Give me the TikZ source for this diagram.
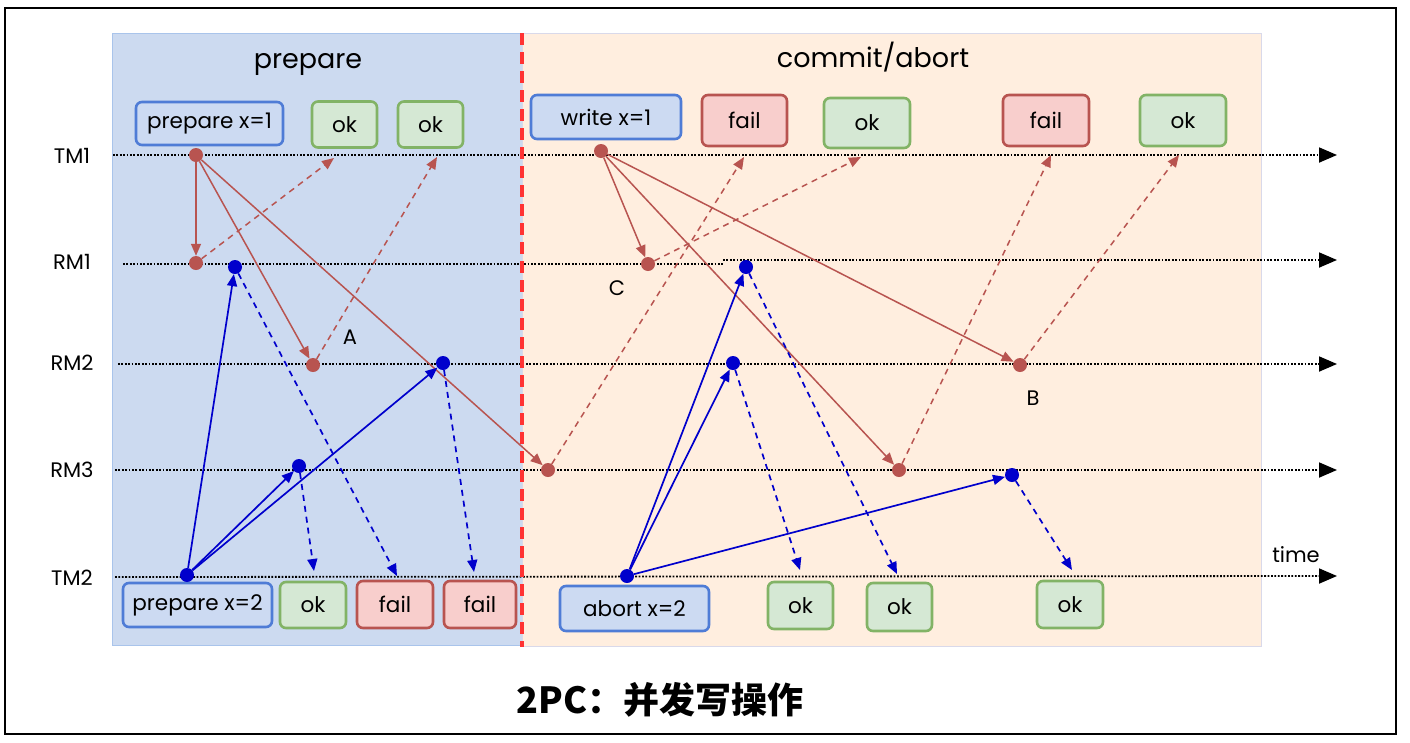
\documentclass[tikz,border=0pt]{standalone}
\usepackage{fontspec}
\setmainfont{Poppins}
\newfontfamily\cjk{Noto Sans CJK SC}
\usetikzlibrary{arrows.meta}
\definecolor{rm}{HTML}{B85450}
\definecolor{bl}{HTML}{0000CC}
\definecolor{regblue}{HTML}{CCDAF0}
\definecolor{regblueln}{HTML}{A9C4EB}
\definecolor{regor}{HTML}{FFEEDF}
\definecolor{regorln}{HTML}{D9D9EA}
\definecolor{bboxln}{HTML}{4F7CD6}
\definecolor{bboxfill}{HTML}{CCDAF2}
\definecolor{gboxln}{HTML}{82B366}
\definecolor{gboxfill}{HTML}{D5E8D4}
\definecolor{rboxfill}{HTML}{F8CECC}
\definecolor{redline}{HTML}{FF3333}
\tikzset{
  lbl/.style={font=\fontsize{21}{24}\selectfont},
  ttl/.style={font=\fontsize{27}{30}\selectfont, anchor=base},
  boxbase/.style={rounded corners=6pt, line width=2.6pt, inner sep=0pt, font=\fontsize{21.5}{24}\selectfont},
  bbox/.style={boxbase, draw=bboxln, fill=bboxfill},
  gbox/.style={boxbase, draw=gboxln, fill=gboxfill},
  rbox/.style={boxbase, draw=rm, fill=rboxfill},
  rdot/.style={circle, fill=rm, inner sep=0pt, minimum size=14pt},
  bdot/.style={circle, fill=bl, inner sep=0pt, minimum size=14pt},
  rarr/.style={draw=rm, line width=1.5pt, -{Triangle[length=12pt,width=10pt]}},
  rdash/.style={rarr, dash pattern=on 6pt off 5pt},
  barr/.style={draw=bl, line width=1.7pt, -{Triangle[length=12pt,width=10pt]}},
  bdash/.style={barr, dash pattern=on 6pt off 5pt},
  tline/.style={draw=black, line width=1.8pt, dash pattern=on 1.8pt off 1.6pt, -{Triangle[length=18pt,width=15pt]}},
  tseg/.style={draw=black, line width=1.8pt, dash pattern=on 1.8pt off 1.6pt},
}
\begin{document}
\begin{tikzpicture}[x=1pt,y=-1pt]
\useasboundingbox (0,0) rectangle (1410,742);
\fill[white] (0,0) rectangle (1410,742);
% regions
\draw[draw=regblueln, fill=regblue, line width=1pt] (112,33) rectangle (522,645);
\draw[draw=regorln, fill=regor, line width=1pt] (522,33) rectangle (1261,646);
% outer frame
\draw[line width=2.5pt] (5,8) rectangle (1396,734);
% titles
\node[ttl] (tprep) at (308,68) {prepare};
\node[ttl] (tcomm) at (873,67) {commit/abort};
% row labels
\node[lbl] (lTM1) at (72,156) {TM1};
\node[lbl] (lRM1) at (72,262) {RM1};
\node[lbl] (lRM2) at (72,363) {RM2};
\node[lbl] (lRM3) at (72,470) {RM3};
\node[lbl] (lTM2) at (72,578) {TM2};
% timelines
\coordinate (s1) at (113,155); \coordinate (e1) at (1337,155);
\coordinate (s2) at (123,264); \coordinate (m2) at (723,264);
\coordinate (m2b) at (723,260); \coordinate (e2) at (1337,260);
\coordinate (s3) at (118,364); \coordinate (e3) at (1337,364);
\coordinate (s4) at (115,470); \coordinate (e4) at (1337,470);
\coordinate (s5) at (115,577); \coordinate (e5) at (1337,576);
\draw[tline] (s1) -- (e1);
\draw[tseg] (s2) -- (m2);
\draw[tline] (m2b) -- (e2);
\draw[tline] (s3) -- (e3);
\draw[tline] (s4) -- (e4);
\draw[tline] (s5) -- (e5);
% red dashed separator
\coordinate (sepT) at (522,33); \coordinate (sepB) at (522,647);
\draw[draw=redline, line width=3.5pt, dash pattern=on 12pt off 7pt] (sepT) -- (sepB);
% boxes
\node[bbox, minimum width=147pt, minimum height=43pt] (bp1) at (209.5,123.5) {prepare x=1};
\node[gbox, minimum width=65pt, minimum height=46pt] (ok1) at (344.5,124.5) {ok};
\node[gbox, minimum width=65pt, minimum height=46pt] (ok2) at (430.5,124.5) {ok};
\node[bbox, minimum width=149pt, minimum height=44pt] (bp2) at (197.5,605) {prepare x=2};
\node[gbox, minimum width=66pt, minimum height=46pt] (ok3) at (313,605) {ok};
\node[rbox, minimum width=76pt, minimum height=47pt] (f1) at (395,604.5) {fail};
\node[rbox, minimum width=72pt, minimum height=47pt] (f2) at (480,604.5) {fail};
\node[bbox, minimum width=150pt, minimum height=44pt] (bw1) at (606,117) {write x=1};
\node[rbox, minimum width=85pt, minimum height=51pt] (f3) at (744.5,120.5) {fail};
\node[gbox, minimum width=86pt, minimum height=50pt] (ok4) at (867,123) {ok};
\node[rbox, minimum width=86pt, minimum height=51pt] (f4) at (1046,120.5) {fail};
\node[gbox, minimum width=86pt, minimum height=51pt] (ok5) at (1183,120.5) {ok};
\node[bbox, minimum width=149pt, minimum height=45pt] (ba2) at (634.5,608.5) {abort x=2};
\node[gbox, minimum width=65pt, minimum height=47pt] (ok6) at (800.5,605.5) {ok};
\node[gbox, minimum width=65pt, minimum height=48pt] (ok7) at (899.5,607) {ok};
\node[gbox, minimum width=66pt, minimum height=47pt] (ok8) at (1070,604.5) {ok};
% letters
\node[lbl] (lA) at (350,337) {A};
\node[lbl] (lC) at (617,288) {C};
\node[lbl] (lB) at (1033,398) {B};
\node[lbl] (ltime) at (1296,555) {time};
% dots
\node[rdot] (TM1a) at (196,155) {};
\node[rdot] (RM1a) at (196,263) {};
\node[rdot] (RM2a) at (313,365) {};
\node[rdot] (RM3a) at (548,470) {};
\node[rdot] (TM1b) at (601,151) {};
\node[rdot] (RM1b) at (648,264) {};
\node[rdot] (RM3b) at (899,470) {};
\node[rdot] (RM2b) at (1020,365) {};
\node[bdot] (RM1c) at (235,267) {};
\node[bdot] (RM2c) at (443,363) {};
\node[bdot] (RM3c) at (299,466) {};
\node[bdot] (TM2a) at (187,575) {};
\node[bdot] (RM1d) at (746,267) {};
\node[bdot] (RM2d) at (733,363) {};
\node[bdot] (RM3d) at (1012,475) {};
\node[bdot] (TM2b) at (627,576) {};
% free ends
\coordinate (tOk1) at (334,158);
\coordinate (tOk2) at (437,157);
\coordinate (tF3) at (744,157);
\coordinate (tOk4) at (861,157);
\coordinate (tF4) at (1051,155);
\coordinate (tOk5) at (1179,155);
\coordinate (tF1) at (397,576);
\coordinate (tOk3) at (314,571);
\coordinate (tF2) at (474,572);
\coordinate (tOk6) at (800,570);
\coordinate (tOk7) at (897,574);
\coordinate (tOk8) at (1072,570);
% red arrows, prepare
\draw[rarr] (TM1a) -- (RM1a);
\draw[rarr] (TM1a) -- (RM2a);
\draw[rarr] (TM1a) -- (RM3a);
\draw[rdash] (RM1a) -- (tOk1);
\draw[rdash] (RM2a) -- (tOk2);
% red arrows, commit
\draw[rarr] (TM1b) -- (RM1b);
\draw[rarr] (TM1b) -- (RM3b);
\draw[rarr] (TM1b) -- (RM2b);
\draw[rdash] (RM3a) -- (tF3);
\draw[rdash] (RM1b) -- (tOk4);
\draw[rdash] (RM3b) -- (tF4);
\draw[rdash] (RM2b) -- (tOk5);
% blue arrows, prepare
\draw[barr] (TM2a) -- (RM1c);
\draw[barr] (TM2a) -- (RM3c);
\draw[barr] (TM2a) -- (RM2c);
\draw[bdash] (RM1c) -- (tF1);
\draw[bdash] (RM3c) -- (tOk3);
\draw[bdash] (RM2c) -- (tF2);
% blue arrows, abort
\draw[barr] (TM2b) -- (RM1d);
\draw[barr] (TM2b) -- (RM2d);
\draw[barr] (TM2b) -- (RM3d);
\draw[bdash] (RM2d) -- (tOk6);
\draw[bdash] (RM1d) -- (tOk7);
\draw[bdash] (RM3d) -- (tOk8);
% caption
\node[font=\cjk\bfseries\fontsize{36}{40}\selectfont] (cap) at (660,700) {2PC：并发写操作};
\end{tikzpicture}
\end{document}
